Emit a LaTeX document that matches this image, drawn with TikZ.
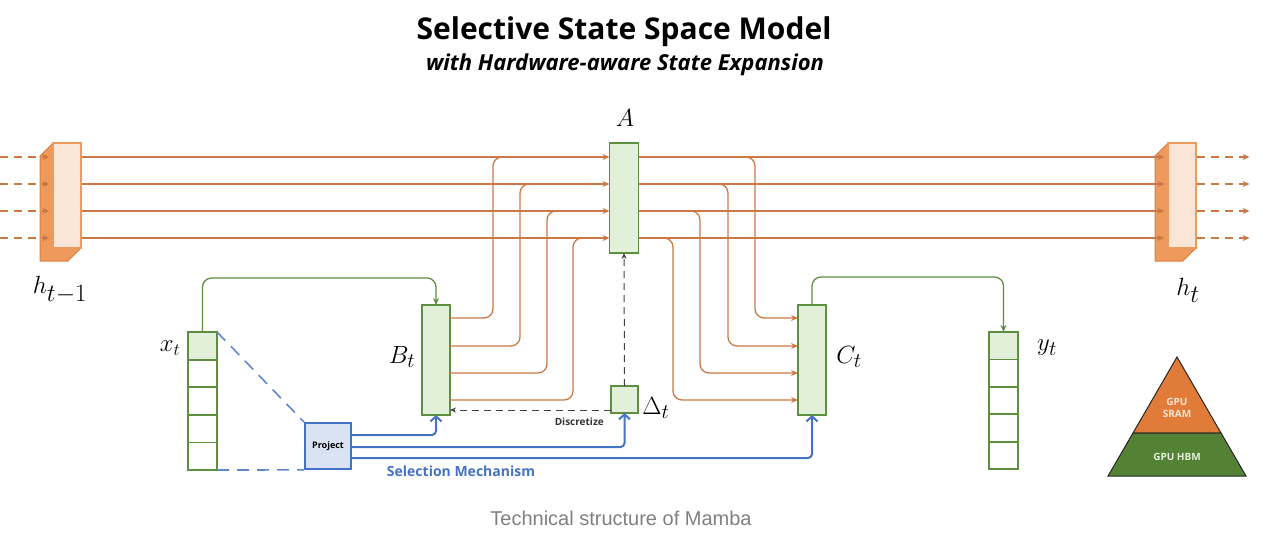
\documentclass[tikz,border=0pt]{standalone}
\usepackage{fontspec}
\setmainfont{Open Sans}
\newfontfamily\capfont{Liberation Sans}
\usetikzlibrary{arrows.meta,positioning,calc}
\definecolor{rust}{HTML}{CC7844}
\definecolor{leaf}{HTML}{5E8F3E}
\definecolor{leafbg}{HTML}{E2EFD9}
\definecolor{sky}{HTML}{4472C4}
\definecolor{skybg}{HTML}{DAE3F3}
\definecolor{peach}{HTML}{FBE5D6}
\definecolor{amber}{HTML}{ED9A5C}
\definecolor{amberdk}{HTML}{D9803F}
\definecolor{pyor}{HTML}{E07B39}
\definecolor{pygr}{HTML}{548235}

\begin{document}
\begin{tikzpicture}[x=1pt,y=-1pt,
  oline/.style={rust,line width=1.3pt},
  otip/.style={-{Stealth[length=7pt,width=6pt]}},
  gbox/.style={draw=leaf,fill=leafbg,line width=1.8pt,inner sep=0pt,outer sep=0pt},
  cell/.style={draw=leaf,line width=1.8pt,minimum width=29pt,minimum height=27.6pt,inner sep=0pt,outer sep=0pt},
  gline/.style={leaf,line width=1.3pt,rounded corners=9pt,-{Stealth[length=7pt,width=6pt]}},
  bline/.style={sky,line width=2pt,rounded corners=4pt,-{Straight Barb[length=5pt,width=11pt,line width=2pt]}},
  kdash/.style={black!75,line width=1pt,dash pattern=on 7pt off 5pt,-{Stealth[length=6pt,width=5pt]}},
  hbox/.style={draw=amber,fill=peach,line width=1.2pt,minimum width=28pt,minimum height=105pt,inner sep=0pt},
  mlabel/.style={inner sep=0pt,font=\fontsize{31}{31}\selectfont}]
  \useasboundingbox (0,0) rectangle (1277,543);

  % title
  \node[font=\fontsize{30}{34}\selectfont\bfseries] (title) at (624,32)
    {Selective State Space Model};
  \node[font=\fontsize{22}{25}\selectfont\bfseries\itshape] (subtitle) at (625,65)
    {with Hardware-aware State Expansion};

  % hidden states
  \filldraw[fill=amber,draw=amberdk,line width=1pt] (53,143) -- (40,156) -- (40,261)
    -- (68,261) -- (81,248) -- (53,248) -- cycle;
  \node[hbox] (hprev) at (67,195.5) {};
  \filldraw[fill=amber,draw=amberdk,line width=1pt] (1168,143) -- (1155,156) -- (1155,261)
    -- (1183,261) -- (1196,248) -- (1168,248) -- cycle;
  \node[hbox] (hnext) at (1182,195.5) {};
  \node[mlabel,font=\fontsize{34}{34}\selectfont] (hprevlabel) at (60,290) {$h_{t-1}$};
  \node[mlabel,font=\fontsize{34}{34}\selectfont] (hnextlabel) at (1188,290) {$h_t$};

  % parameter blocks
  \node[gbox,minimum width=29pt,minimum height=110pt] (A) at (624,198) {};
  \node[gbox,minimum width=28pt,minimum height=110pt] (B) at (436,360) {};
  \node[gbox,minimum width=28pt,minimum height=110pt] (C) at (812,360) {};
  \node[gbox,minimum width=27pt,minimum height=27pt] (D) at (624.5,399.5) {};
  \node[mlabel,font=\fontsize{26}{26}\selectfont] (Alabel) at (625,118) {$A$};
  \node[mlabel] (Blabel) at (402,357) {$B_t$};
  \node[mlabel] (Clabel) at (849,357) {$C_t$};
  \node[mlabel] (Dlabel) at (656,408) {$\Delta_t$};

  % input and output
  \foreach \i in {1,...,5} {
    \node[cell] (x\i) at (202.5,{332+27.6*(\i-0.5)}) {};
    \node[cell] (y\i) at (1003.5,{332+27.4*(\i-0.5)}) {};
  }
  \fill[leafbg] (x1.south west) rectangle (x1.north east);
  \node[cell] at (x1) {};
  \fill[leafbg] (y1.south west) rectangle (y1.north east);
  \node[cell] at (y1) {};
  \node[mlabel,font=\fontsize{24}{24}\selectfont] (xlabel) at (170,348) {$x_t$};
  \node[mlabel] (ylabel) at (1047,348) {$y_t$};

  % state lanes
  \foreach \i/\ly/\ry/\bx/\cx in {1/157/318/493/755,2/184/346/520/728,
      3/211/373/547/700,4/238/400/573/673} {
    \coordinate (L\i) at (0,\ly);
    \coordinate (R\i) at (0,\ry);
    \draw[oline,otip,dash pattern=on 8pt off 6pt] (L\i) -- ([xshift=-3pt]hprev.west |- L\i);
    \draw[oline,otip] (hprev.east |- L\i) -- (A.west |- L\i);
    \draw[oline,otip] (A.east |- L\i) -- ([xshift=-3pt]hnext.west |- L\i);
    \draw[oline,otip,dash pattern=on 8pt off 6pt] (hnext.east |- L\i) -- ++(53,0);
    \draw[oline,rounded corners=9pt] (B.east |- R\i) -- (\bx,\ry) -- (\bx,\ly) -- (\bx+16,\ly);
    \draw[oline,otip,rounded corners=9pt] (\cx-16,\ly) -- (\cx,\ly) -- (\cx,\ry) -- (C.west |- R\i);
  }

  % x -> B, C -> y
  \draw[gline] (x1.north) -- ++(0,-54) -| (B.north);
  \draw[gline] (C.north) -- ++(0,-28) -| (y1.north);

  % selection
  \node[draw=sky,fill=skybg,line width=1.8pt,minimum size=46pt,inner sep=0pt,
    font=\fontsize{9}{10}\selectfont\bfseries] (proj) at (328,446) {Project};
  \draw[sky!85,line width=1.6pt,dash pattern=on 12pt off 8pt] (x1.north east) -- (proj.north west);
  \draw[sky!85,line width=1.6pt,dash pattern=on 12pt off 8pt] (x5.south east) -- (proj.south west);
  \coordinate (S1) at (0,435);
  \coordinate (S2) at (0,447);
  \coordinate (S3) at (0,458);
  \draw[bline] (proj.east |- S1) -| (B.south);
  \draw[bline] (proj.east |- S2) -| (D.south);
  \draw[bline] (proj.east |- S3) -| (C.south);
  \node[text=sky,font=\fontsize{14}{16}\selectfont\bfseries] (selection) at (461,471)
    {Selection Mechanism};

  % discretize
  \draw[kdash] (D.north) -- (A.south);
  \draw[kdash] ([yshift=3pt]D.south west) -- ([yshift=3pt]D.south west -| B.east);
  \node[anchor=east,inner sep=0pt,font=\fontsize{10}{12}\selectfont\bfseries,text=black!80]
    (discretize) at (604,422) {Discretize};

  % memory hierarchy
  \filldraw[fill=pyor,draw=black!85,line width=1pt] (1177,357) -- (1133,433) -- (1221,433) -- cycle;
  \filldraw[fill=pygr,draw=black!85,line width=1pt] (1133,433) -- (1108,476) -- (1246,476)
    -- (1221,433) -- cycle;
  \node[align=center,text=peach,font=\fontsize{10}{12}\selectfont\bfseries] (sram) at (1177,408)
    {GPU\\SRAM};
  \node[text=leafbg,font=\fontsize{10}{12}\selectfont\bfseries] (hbm) at (1177,457) {GPU HBM};

  % caption
  \node[text=black!50,font=\capfont\fontsize{20}{22}\selectfont] (caption) at (621,518)
    {Technical structure of Mamba};
\end{tikzpicture}
\end{document}
